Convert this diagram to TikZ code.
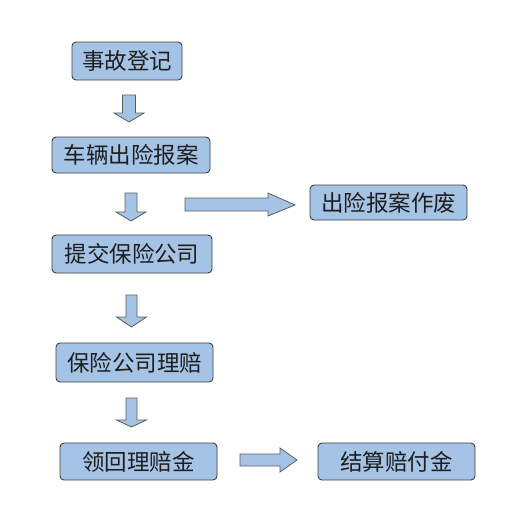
\documentclass[tikz,border=0pt]{standalone}
\usepackage{fontspec}
\newfontfamily\cjk{Noto Sans CJK SC}
\definecolor{boxfill}{RGB}{165,195,229}
\definecolor{boxline}{RGB}{64,64,64}
\definecolor{txt}{RGB}{30,30,30}
\newcommand\blockdown[5]{% cx, top, headstart, tip, shaft halfwidth
  \fill[boxfill] (#1-#5,#2) -- (#1+#5,#2) -- (#1+#5,#3) -- (#1+15,#3) -- (#1,#4) -- (#1-15,#3) -- (#1-#5,#3) -- cycle;
  \draw[arrline] (#1-#5,#2) -- (#1+#5,#2) -- (#1+#5,#3) -- (#1+15,#3) -- (#1,#4) -- (#1-15,#3) -- (#1-#5,#3) -- cycle;}
\begin{document}
\begin{tikzpicture}[x=1pt,y=-1pt,
  flowbox/.style={draw=boxline,line width=0.9pt,fill=boxfill,rounded corners=4pt,
    inner sep=0pt,text=txt,font=\cjk\fontsize{22.5}{26}\selectfont},
  arrline/.style={draw=boxline!85,line width=0.8pt,line join=miter}]
\useasboundingbox (0,0) rectangle (514,520);
\fill[white] (0,0) rectangle (514,520);
\node[flowbox,minimum width=110pt,minimum height=38pt] (b1) at (127,61) {事故登记};
\node[flowbox,minimum width=158pt,minimum height=36pt] (b2) at (131,155) {车辆出险报案};
\node[flowbox,minimum width=157pt,minimum height=35pt] (bx) at (388.5,202.5) {出险报案作废};
\node[flowbox,minimum width=160pt,minimum height=38pt] (b3) at (132,254) {提交保险公司};
\node[flowbox,minimum width=157pt,minimum height=39pt] (b4) at (134.5,362.5) {保险公司理赔};
\node[flowbox,minimum width=157pt,minimum height=37pt] (b5) at (138.5,461.5) {领回理赔金};
\node[flowbox,minimum width=157pt,minimum height=37pt] (b6) at (396.5,461.5) {结算赔付金};
% down arrows
\blockdown{129}{95}{113}{122}{6.5}
\blockdown{131}{193}{212}{221}{6}
\blockdown{131.5}{295}{317}{327}{5.5}
\blockdown{131.5}{398}{420}{427}{5.5}
% right arrow 1
\fill[boxfill] (185,198) -- (268,198) -- (268,193) -- (295,205) -- (268,216) -- (268,211) -- (185,211) -- cycle;
\draw[arrline] (185,198) -- (268,198) -- (268,193) -- (295,205) -- (268,216) -- (268,211) -- (185,211) -- cycle;
% right arrow 2
\fill[boxfill] (240,454) -- (280,454) -- (280,448) -- (297,460) -- (280,472) -- (280,466) -- (240,466) -- cycle;
\draw[arrline] (240,454) -- (280,454) -- (280,448) -- (297,460) -- (280,472) -- (280,466) -- (240,466) -- cycle;
\end{tikzpicture}
\end{document}
